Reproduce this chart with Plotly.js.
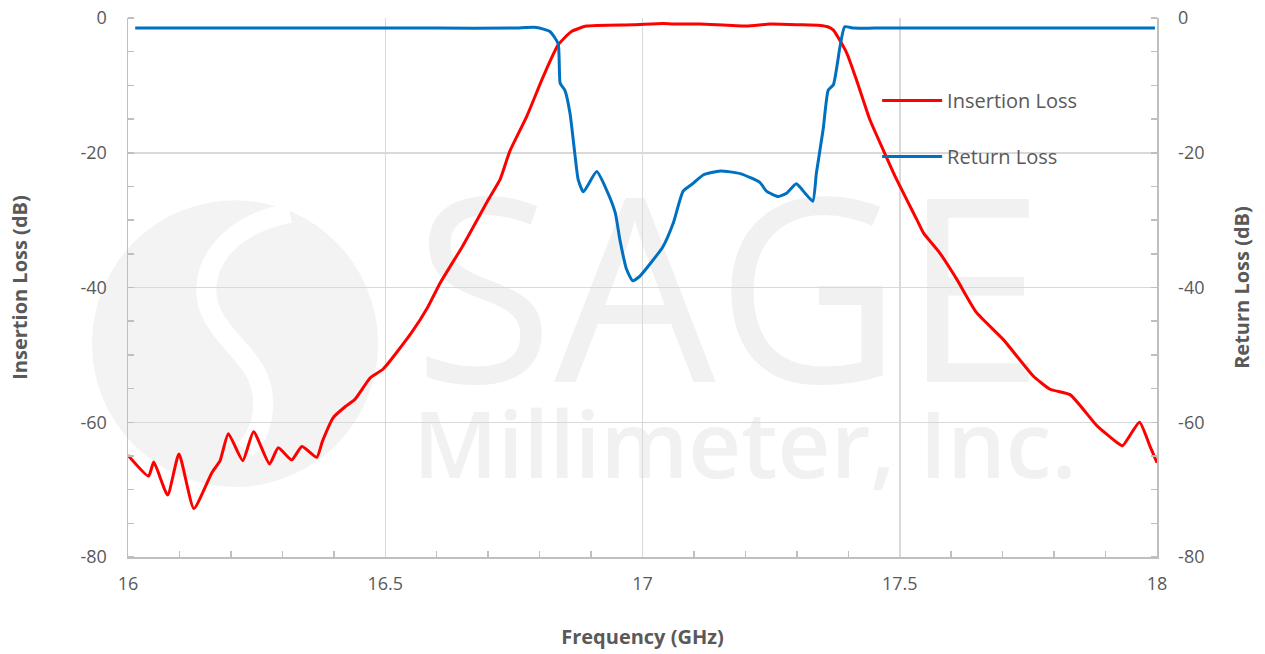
<!DOCTYPE html>
<html>
<head>
<meta charset="utf-8">
<script src="https://cdn.plot.ly/plotly-3.0.1.min.js"></script>
<style>html,body{margin:0;padding:0;background:#fff;}#chart{width:1265px;height:654px;}</style>
</head>
<body>
<div id="chart"></div>
<script>
// Insertion Loss (GHz, dB)
const ilFreq = [16.000,16.040,16.050,16.077,16.099,16.128,16.163,16.179,16.195,16.223,16.244,16.275,16.292,16.318,16.338,16.367,16.378,16.399,16.422,16.441,16.471,16.496,16.551,16.582,16.607,16.650,16.700,16.723,16.742,16.775,16.807,16.836,16.862,16.891,16.982,17.040,17.060,17.112,17.202,17.248,17.306,17.345,17.360,17.371,17.397,17.416,17.442,17.468,17.491,17.533,17.546,17.578,17.611,17.649,17.701,17.759,17.792,17.831,17.883,17.922,17.933,17.966,17.986,18.000];
const ilDb   = [-64.9,-68.0,-65.9,-70.8,-64.7,-72.8,-67.5,-65.7,-61.7,-65.7,-61.4,-66.2,-63.8,-65.6,-63.6,-65.2,-62.8,-59.3,-57.7,-56.6,-53.4,-52.1,-46.7,-43.0,-39.3,-33.9,-27.0,-24.0,-19.8,-14.6,-8.7,-4.0,-2.0,-1.2,-1.0,-0.8,-0.9,-0.9,-1.2,-0.9,-1.0,-1.1,-1.3,-1.8,-5.2,-9.2,-15.1,-19.6,-23.5,-29.9,-31.9,-34.9,-38.8,-43.7,-47.7,-53.1,-55.1,-55.9,-60.5,-63.0,-63.5,-60.0,-63.5,-66.0];

// Return Loss (GHz, dB)
const rlFreq = [16.014,16.300,16.600,16.750,16.794,16.820,16.836,16.840,16.849,16.859,16.869,16.875,16.885,16.911,16.930,16.947,16.956,16.969,16.981,16.995,17.040,17.060,17.079,17.099,17.118,17.151,17.190,17.228,17.241,17.264,17.280,17.299,17.316,17.331,17.338,17.351,17.361,17.371,17.384,17.393,17.410,17.450,17.600,17.800,17.996];
const rlDb   = [-1.5,-1.5,-1.5,-1.5,-1.4,-2.0,-3.8,-9.7,-10.7,-14.1,-20.5,-24.0,-25.8,-22.8,-25.5,-28.9,-32.9,-37.3,-39.0,-38.3,-33.9,-30.4,-25.7,-24.5,-23.3,-22.7,-23.1,-24.4,-25.7,-26.5,-26.0,-24.6,-26.0,-27.2,-23.0,-16.6,-10.7,-9.9,-4.2,-1.3,-1.5,-1.5,-1.5,-1.5,-1.5];

const yTickVals = [0,-20,-40,-60,-80];
const yTickText = ['0','-20','-40','-60','-80'];
const seriesNames = ['Insertion Loss','Return Loss'];

const TXT = '#595959';
const FONT = '"Open Sans", Lato, sans-serif';

const traces = [
  {x: ilFreq, y: ilDb, name: seriesNames[0], type: 'scatter', mode: 'lines',
   line: {color: '#ff0000', width: 3, shape: 'spline', smoothing: 0.5},
   legendgroup: 'a', yaxis: 'y'},
  {x: rlFreq, y: rlDb, name: seriesNames[1], type: 'scatter', mode: 'lines',
   line: {color: '#0070c0', width: 3, shape: 'spline', smoothing: 0.5},
   legendgroup: 'b', yaxis: 'y2'}
];

const yCommon = {
  range: [-80, 0], tickvals: yTickVals, ticktext: yTickText,
  showline: true, linecolor: '#bfbfbf', linewidth: 1.5,
  ticks: '', zeroline: false,
  tickfont: {family: FONT, size: 18, color: TXT},
  minor: {dtick: 5, ticks: 'inside', ticklen: 6, tickcolor: '#bfbfbf', tickwidth: 1.5, showgrid: false},
  fixedrange: true
};

const layout = {
  width: 1265, height: 654,
  margin: {l: 128, r: 108, t: 18, b: 97},
  paper_bgcolor: '#ffffff', plot_bgcolor: 'rgba(0,0,0,0)',
  font: {family: FONT, color: TXT},
  showlegend: true,
  legend: {x: 0.728, y: 0.883, xanchor: 'left', yanchor: 'top', bgcolor: 'rgba(0,0,0,0)',
           font: {family: FONT, size: 20, color: TXT}, traceorder: 'grouped', tracegroupgap: 27,
           itemwidth: 60},
  xaxis: {
    range: [16, 18], dtick: 0.5, tick0: 16,
    showline: true, linecolor: '#bfbfbf', linewidth: 1.5,
    showgrid: true, gridcolor: '#d9d9d9', gridwidth: 1.5,
    ticks: '', zeroline: false,
    tickfont: {family: FONT, size: 18, color: TXT},
    ticklabelstandoff: 10,
    minor: {dtick: 0.1, ticks: 'inside', ticklen: 6, tickcolor: '#bfbfbf', tickwidth: 1.5, showgrid: false},
    title: {text: 'Frequency (GHz)', font: {family: FONT, size: 20, color: TXT, weight: 'bold'}, standoff: 36},
    fixedrange: true
  },
  yaxis: Object.assign({}, yCommon, {
    showgrid: true, gridcolor: '#d9d9d9', gridwidth: 1.5,
    ticklabelstandoff: 16,
    title: {text: 'Insertion Loss (dB)', font: {family: FONT, size: 20, color: TXT, weight: 'bold'}, standoff: 47}
  }),
  yaxis2: Object.assign({}, yCommon, {
    overlaying: 'y', side: 'right', showgrid: false,
    ticklabelstandoff: 16,
    title: {text: 'Return Loss (dB)', font: {family: FONT, size: 20, color: TXT, weight: 'bold'}, standoff: 31}
  }),
  shapes: [
    {type: 'circle', xref: 'paper', yref: 'paper', x0: -0.035, x1: 0.243, y0: 0.13, y1: 0.662,
     fillcolor: '#f3f3f3', line: {width: 0}, layer: 'below'},
    {type: 'path', xref: 'paper', yref: 'paper', layer: 'below',
     path: 'M 0.1574 0.6382 C 0.0948 0.6160 0.0651 0.5325 0.0797 0.4583 C 0.0943 0.3933 0.1302 0.3655 0.1312 0.2913 C 0.1322 0.2449 0.1234 0.2171 0.1137 0.1985',
     line: {color: '#ffffff', width: 20}},
    {type: 'rect', xref: 'paper', yref: 'paper', x0: 0.279, x1: 0.889, y0: 0.312, y1: 0.639,
     line: {width: 0}, fillcolor: 'rgba(0,0,0,0)', layer: 'below',
     label: {text: 'SAGE', textposition: 'middle center', font: {family: FONT, size: 256, color: '#f1f1f1', weight: 'normal'}}},
    {type: 'rect', xref: 'paper', yref: 'paper', x0: 0.279, x1: 0.920, y0: 0.146, y1: 0.256,
     line: {width: 0}, fillcolor: 'rgba(0,0,0,0)', layer: 'below',
     label: {text: 'Millimeter, Inc.', textposition: 'middle center', font: {family: FONT, size: 92, color: '#f1f1f1', weight: 600}}}
  ]
};

Plotly.newPlot('chart', traces, layout, {displayModeBar: false, staticPlot: true});
</script>
</body>
</html>
